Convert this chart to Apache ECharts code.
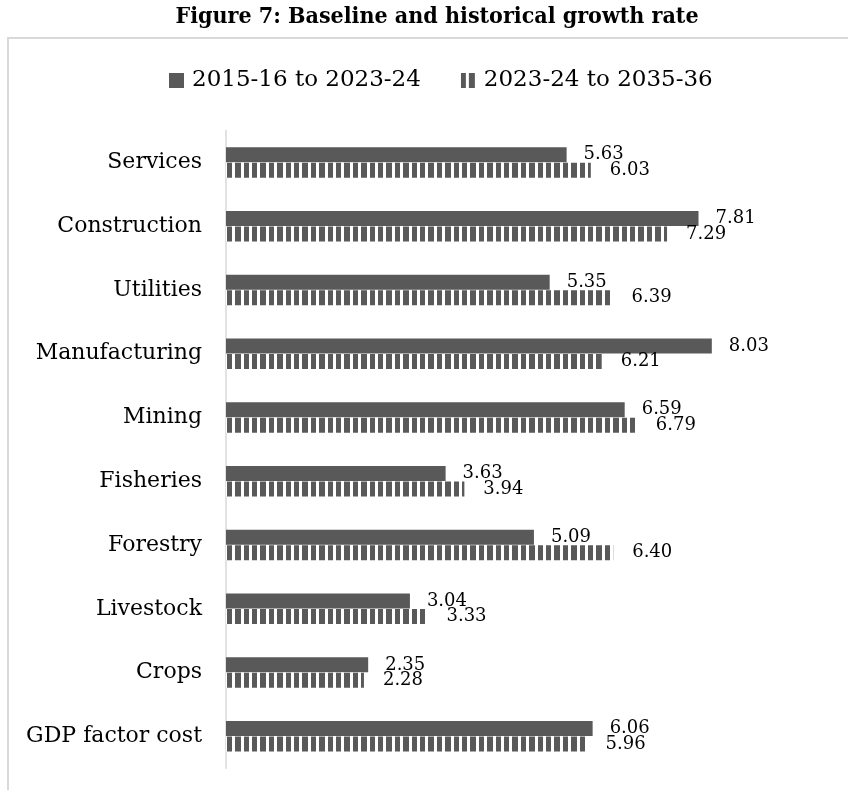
<!DOCTYPE html>
<html>
<head>
<meta charset="utf-8">
<script src="https://cdn.jsdelivr.net/npm/echarts@6/dist/echarts.min.js"></script>
<style>
  html, body { margin: 0; padding: 0; background: #ffffff; }
  #chart { width: 848px; height: 790px; }
</style>
</head>
<body>
<div id="chart"></div>
<script>
// Sectors, top to bottom
const categories = ['Services', 'Construction', 'Utilities', 'Manufacturing', 'Mining',
  'Fisheries', 'Forestry', 'Livestock', 'Crops', 'GDP factor cost'];
const seriesNames = ['2015-16 to 2023-24', '2023-24 to 2035-36'];
// Average growth rates (%)
const historical = [5.63, 7.81, 5.35, 8.03, 6.59, 3.63, 5.09, 3.04, 2.35, 6.06];
const baseline = [6.03, 7.29, 6.39, 6.21, 6.79, 3.94, 6.40, 3.33, 2.28, 5.96];

const serif = "'DejaVu Serif', 'Liberation Serif', serif";
const dark = '#595959';

// Vertical stripe fill for the projection series
function stripeFill() {
  const c = document.createElement('canvas');
  const widths = [5, 3, 6, 3, 5, 3, 6, 3, 5, 3];
  const total = widths.reduce((a, b) => a + b, 0);
  c.width = total; c.height = 4;
  const g = c.getContext('2d');
  g.fillStyle = '#ffffff';
  g.fillRect(0, 0, total, 4);
  g.fillStyle = dark;
  let x = 0;
  for (let i = 0; i < widths.length; i++) {
    if (i % 2 === 0) g.fillRect(x, 0, widths[i], 4);
    x += widths[i];
  }
  return { image: c, repeat: 'repeat' };
}

const chart = echarts.init(document.getElementById('chart'), null, { renderer: 'canvas' });

const labelFmt = p => Number(p.value).toFixed(2);

chart.setOption({
  backgroundColor: '#ffffff',
  animation: false,
  title: {
    text: 'Figure 7: Baseline and historical growth rate',
    left: 432,
    textAlign: 'center',
    top: 1,
    textStyle: { fontFamily: "'DejaVu Serif Condensed', " + serif, fontWeight: 'bold', fontSize: 23, color: '#000000' }
  },
  graphic: [{
    type: 'rect',
    shape: { x: 8, y: 38, width: 860, height: 780 },
    style: { fill: 'none', stroke: '#d9d9d9', lineWidth: 2 },
    silent: true,
    z: -1
  }],
  legend: {
    left: 169,
    top: 69,
    padding: 0,
    itemWidth: 15,
    itemHeight: 15,
    itemGap: 40,
    icon: 'rect',
    textStyle: { fontFamily: serif, fontSize: 23, color: '#000000', padding: [0, 0, 0, 3] },
    data: seriesNames
  },
  grid: { left: 226, top: 130.6, width: 605, height: 637.6, containLabel: false },
  xAxis: {
    type: 'value',
    min: 0,
    max: 10,
    show: false
  },
  yAxis: {
    type: 'category',
    inverse: true,
    data: categories,
    axisLine: { show: true, lineStyle: { color: '#d9d9d9', width: 1.5 } },
    axisTick: { show: false },
    axisLabel: { fontFamily: serif, fontSize: 22, color: '#000000', margin: 24 }
  },
  series: [
    {
      name: seriesNames[0],
      type: 'bar',
      data: historical,
      barWidth: 15,
      barGap: '3%',
      itemStyle: { color: dark },
      label: {
        show: true, position: 'right', distance: 17, formatter: labelFmt,
        fontFamily: serif, fontSize: 18, color: '#000000'
      }
    },
    {
      name: seriesNames[1],
      type: 'bar',
      data: baseline,
      barWidth: 15,
      barGap: '3%',
      itemStyle: { color: stripeFill() },
      label: {
        show: true, position: 'right', distance: 19, formatter: labelFmt,
        fontFamily: serif, fontSize: 18, color: '#000000'
      }
    }
  ]
});
</script>
</body>
</html>
